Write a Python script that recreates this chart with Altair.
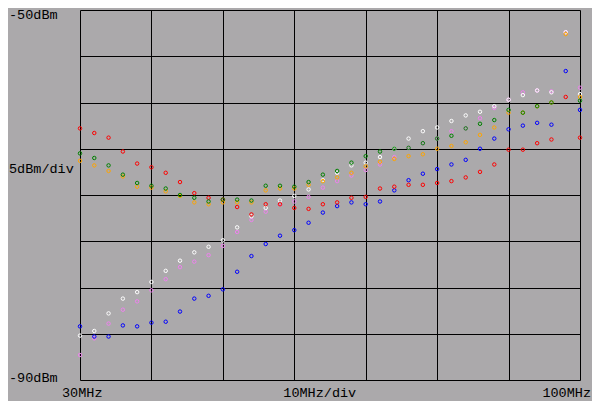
import altair as alt
import pandas as pd

freqs = [30, 32, 34, 36, 38, 40, 42, 44, 46, 48, 50, 52, 54, 56, 58, 60, 62, 64,
         66, 68, 70, 72, 74, 76, 78, 80, 82, 84, 86, 88, 90, 92, 94, 96, 98, 100]

pink = [-87.3, -85.5, -83.9, -82.4, -81.5, -80.3, -79.1, -77.8, -77.2, -76.5, -75.5, -74.0,
        -72.7, -71.8, -71.0, -70.7, -70.2, -69.2, -68.5, -67.9, -67.3, -66.7, -65.9, -64.9,
        -64.4, -63.9, -63.1, -62.8, -61.7, -60.6, -59.7, -58.9, -58.7, -58.8, -52.4, -58.4]
white = [-85.2, -84.7, -82.8, -81.2, -80.5, -79.4, -78.2, -77.1, -76.2, -75.6, -74.9, -73.5,
         -72.3, -71.4, -70.6, -70.1, -69.4, -68.4, -67.6, -66.8, -66.5, -65.9, -65.0, -63.9,
         -63.1, -62.7, -62.0, -61.4, -61.0, -60.4, -59.7, -59.2, -58.7, -58.9, -52.4, -59.1]
blue = [-84.2, -85.3, -85.3, -84.1, -84.2, -83.8, -83.7, -82.6, -81.2, -80.9, -80.2, -78.3,
        -76.6, -75.3, -74.4, -73.8, -73.0, -71.9, -71.2, -70.8, -71.0, -70.7, -69.5, -68.4,
        -67.7, -67.2, -66.7, -66.2, -65.0, -63.9, -62.9, -62.5, -62.2, -62.4, -56.6, -60.8]
orange = [-66.3, -66.8, -67.4, -68.0, -69.1, -69.2, -69.6, -70.1, -70.8, -71.0, -70.8, -70.8,
          -70.8, -69.5, -69.3, -69.3, -68.9, -68.5, -68.1, -67.6, -66.9, -66.4, -66.1, -65.8,
          -65.6, -65.0, -64.7, -64.3, -63.5, -62.7, -61.1, -61.1, -60.4, -60.0, -52.6, -59.4]
red = [-62.8, -63.3, -63.8, -65.3, -66.6, -67.0, -67.6, -68.6, -69.8, -70.3, -70.5, -71.3,
       -72.1, -71.0, -71.0, -71.4, -71.5, -71.0, -70.8, -70.3, -70.2, -69.3, -69.1, -68.9,
       -68.9, -68.7, -68.5, -68.1, -67.5, -66.7, -65.1, -65.1, -64.4, -64.0, -59.4, -63.8]
green = [-65.5, -66.0, -66.8, -67.8, -68.7, -69.0, -69.3, -70.0, -70.3, -70.7, -70.5, -70.5,
         -70.6, -69.0, -69.0, -69.1, -68.6, -67.8, -67.4, -66.5, -65.8, -65.3, -65.0, -64.9,
         -64.4, -63.9, -63.6, -62.8, -62.3, -61.9, -60.8, -61.1, -60.4, -60.0, -49.4, -59.8]

series_names = ["pink", "white", "blue", "orange", "red", "green"]
series_values = [pink, white, blue, orange, red, green]
series_colors = ["#EE82EE", "#FFFFFF", "#0000FF", "#FFA500", "#FF0000", "#008000"]

y_labels = ["-50dBm", "5dBm/div", "-90dBm"]
x_labels = ["30MHz", "10MHz/div", "100MHz"]

x_grid = [30, 40, 50, 60, 70, 80, 90, 100]
y_grid = [-90, -85, -80, -75, -70, -65, -60, -55, -50]

rows = []
for name, vals in zip(series_names, series_values):
    for f, v in zip(freqs, vals):
        rows.append({"f": f, "dbm": v, "s": name})
df = pd.DataFrame(rows)

FONT = "Liberation Mono"
FS = 13.5

points = alt.Chart(df).mark_point(shape="circle", filled=False, size=12, strokeWidth=1, opacity=1).encode(
    x=alt.X("f:Q", scale=alt.Scale(domain=[30, 100], nice=False, zero=False),
            axis=alt.Axis(values=x_grid, grid=True, labels=False, ticks=False, domain=False,
                          title=None, gridColor="black", gridOpacity=1, gridWidth=1)),
    y=alt.Y("dbm:Q", scale=alt.Scale(domain=[-90, -50], nice=False, zero=False),
            axis=alt.Axis(values=y_grid, grid=True, labels=False, ticks=False, domain=False,
                          title=None, gridColor="black", gridOpacity=1, gridWidth=1)),
    color=alt.Color("s:N", scale=alt.Scale(domain=series_names, range=series_colors), legend=None),
)

def label(txt, px, py, align="left"):
    return alt.Chart(pd.DataFrame({"t": [txt]})).mark_text(
        font=FONT, fontSize=FS, color="black", align=align, baseline="alphabetic"
    ).encode(text="t:N", x=alt.value(px), y=alt.value(py))

layers = [points,
          label(y_labels[0], -71, 9),
          label(y_labels[1], -71, 163),
          label(y_labels[2], -71, 372),
          label(x_labels[0], -18, 386.5),
          label(x_labels[1], 203.3, 386.5),
          label(x_labels[2], 511, 386.5, align="right")]

chart = alt.layer(*layers).properties(
    width=500, height=370,
    padding={"left": 72, "top": 2, "right": 12, "bottom": 21},
    autosize=alt.AutoSizeParams(type="none"),
    background="#ABA9AB",
).configure_view(stroke=None)

chart.save("out.html", embed_options={"renderer": "svg", "actions": False})
